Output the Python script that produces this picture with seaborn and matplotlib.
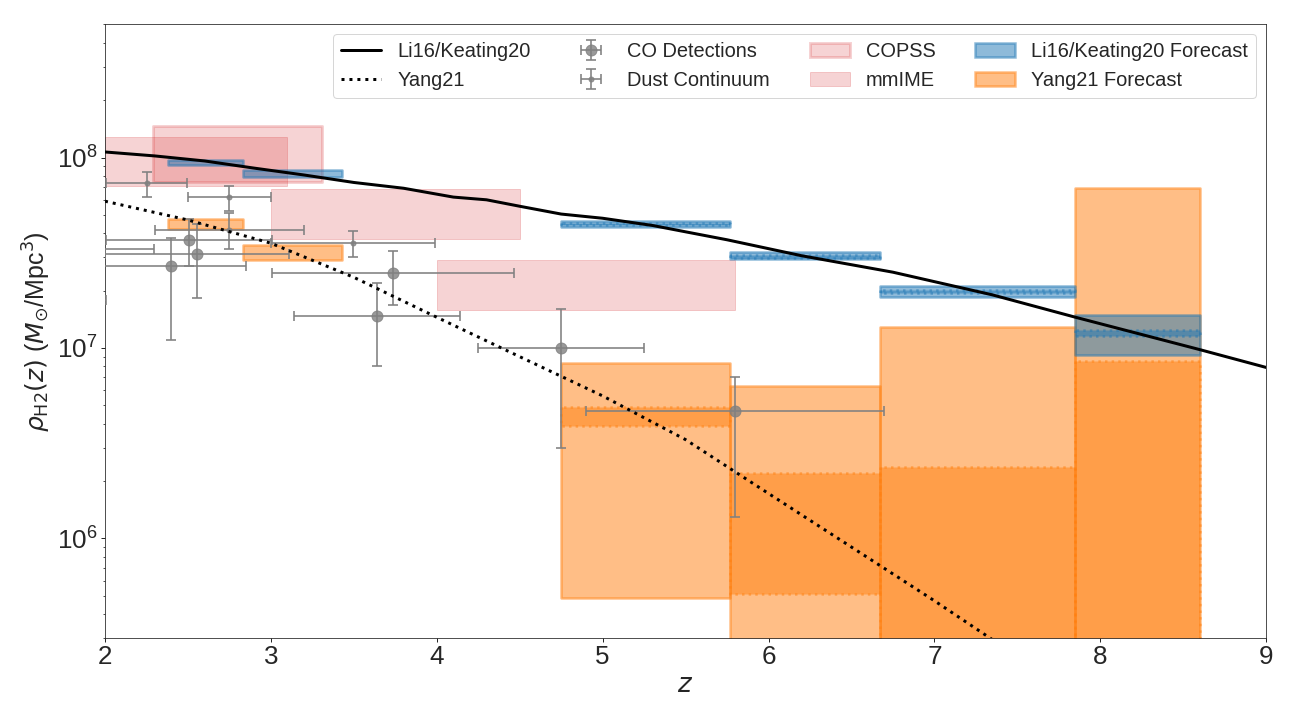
import numpy as np
import pandas as pd
import matplotlib
matplotlib.use("Agg")
import matplotlib.pyplot as plt
import seaborn as sns

# ---------------- data ----------------
# Li16/Keating20 model curve
li_z = [2.0, 2.3, 2.6, 2.9, 3.2, 3.5, 3.8, 4.1, 4.3, 4.5, 4.75, 5.0, 5.3, 5.75, 6.2, 6.75, 7.35, 7.85, 8.6, 9.0]
li_rho = [1.07e8, 1.02e8, 9.6e7, 8.8e7, 8.1e7, 7.4e7, 6.9e7, 6.2e7, 6.0e7, 5.55e7, 5.05e7, 4.8e7,
          4.4e7, 3.7e7, 3.05e7, 2.5e7, 1.9e7, 1.45e7, 9.8e6, 7.9e6]

# Yang21 model curve
yang_z = [2.0, 2.5, 3.0, 3.5, 4.0, 4.5, 5.0, 5.5, 6.0, 6.5, 7.0, 7.5]
yang_rho = [5.9e7, 4.7e7, 3.55e7, 2.35e7, 1.45e7, 9.0e6, 5.6e6, 3.3e6, 1.72e6, 9.0e5, 4.7e5, 2.4e5]

# CO detections
co_z = [2.508, 2.555, 2.398, 3.738, 3.64, 4.749, 5.798, 1.85, 1.595]
co_zerr = [0.5, 0.555, 0.452, 0.73, 0.5, 0.5, 0.9, 0.445, 0.41]
co_rho = [3.7e7, 3.12e7, 2.68e7, 2.47e7, 1.48e7, 1.0e7, 4.69e6, 3.29e7, 1.78e7]
co_err_lo = [1.01e7, 1.29e7, 1.58e7, 0.79e7, 0.68e7, 0.7e7, 3.39e6, 1.0e7, 0.6e7]
co_err_hi = [1.05e7, 1.36e7, 1.09e7, 0.78e7, 0.71e7, 0.6e7, 2.39e6, 1.0e7, 0.6e7]

# Dust continuum
dust_z = [2.251, 2.75, 2.75, 3.497]
dust_zerr = [0.245, 0.25, 0.45, 0.495]
dust_rho = [7.33e7, 6.22e7, 4.18e7, 3.57e7]
dust_err_lo = [1.16e7, 1.0e7, 0.88e7, 0.57e7]
dust_err_hi = [1.1e7, 0.91e7, 0.94e7, 0.53e7]

# COPSS constraint
copss_zlo, copss_zhi = [2.29], [3.31]
copss_lo, copss_hi = [7.48e7], [1.46e8]

# mmIME constraints
mmime_zlo = [2.0, 3.0, 4.0]
mmime_zhi = [3.1, 4.5, 5.8]
mmime_lo = [7.08e7, 3.74e7, 1.59e7]
mmime_hi = [1.28e8, 6.82e7, 2.88e7]

# Forecast bins
fc_zlo = [2.38, 2.835, 4.75, 5.77, 6.67, 7.85]
fc_zhi = [2.835, 3.43, 5.77, 6.67, 7.85, 8.60]

li_fc_out_lo = [9.1e7, 7.94e7, 4.32e7, 2.92e7, 1.85e7, 9.2e6]
li_fc_out_hi = [9.67e7, 8.58e7, 4.63e7, 3.18e7, 2.11e7, 1.49e7]
li_fc_in_lo = [np.nan, np.nan, 4.43e7, 2.98e7, 1.94e7, 1.16e7]
li_fc_in_hi = [np.nan, np.nan, 4.52e7, 3.08e7, 2.02e7, 1.24e7]

yang_fc_out_lo = [4.22e7, 2.9e7, 4.87e5, 1e5, 1e5, 1e5]
yang_fc_out_hi = [4.75e7, 3.48e7, 8.38e6, 6.28e6, 1.29e7, 6.9e7]
yang_fc_in_lo = [np.nan, np.nan, 3.88e6, 5.13e5, 1e5, 1e5]
yang_fc_in_hi = [np.nan, np.nan, 4.88e6, 2.2e6, 2.38e6, 8.55e6]

x_ticks = [2, 3, 4, 5, 6, 7, 8, 9]

# ---------------- style ----------------
sns.set_style("ticks")
plt.rcParams['font.family'] = ['Liberation Sans', 'DejaVu Sans']
plt.rcParams['mathtext.fontset'] = 'dejavusans'
plt.rcParams['xtick.direction'] = 'out'
plt.rcParams['ytick.direction'] = 'out'

fig, ax = plt.subplots(figsize=(18, 10), dpi=72)
fig.subplots_adjust(left=0.081, right=0.977, bottom=0.114, top=0.966)
ax.set_yscale('log')

for sp in ax.spines.values():
    sp.set_visible(True)
    sp.set_color('0.15')

# pink constraints
red = 'tab:red'
h_copss = None
for a, b, lo, hi in zip(copss_zlo, copss_zhi, copss_lo, copss_hi):
    h_copss = ax.fill_between([a, b], [lo, lo], [hi, hi], facecolor=red, edgecolor=red,
                              alpha=0.2, lw=3, zorder=1)
h_mmime = None
for a, b, lo, hi in zip(mmime_zlo, mmime_zhi, mmime_lo, mmime_hi):
    h_mmime = ax.fill_between([a, b], [lo, lo], [hi, hi], facecolor=red, edgecolor=red,
                              alpha=0.2, lw=1, zorder=1)

def draw_forecast(zlo, zhi, olo, ohi, ilo, ihi, color, z):
    h = None
    for a, b, lo, hi, l2, h2 in zip(zlo, zhi, olo, ohi, ilo, ihi):
        h = ax.fill_between([a, b], [lo, lo], [hi, hi], facecolor=color, edgecolor=color,
                            alpha=0.5, lw=2.5, zorder=z)
        if np.isfinite(l2):
            ax.fill_between([a, b], [l2, l2], [h2, h2], facecolor=color, edgecolor=color,
                            alpha=0.5, lw=2.5, ls=':', zorder=z)
    return h

h_yang_fc = draw_forecast(fc_zlo, fc_zhi, yang_fc_out_lo, yang_fc_out_hi,
                          yang_fc_in_lo, yang_fc_in_hi, 'tab:orange', 2)
h_li_fc = draw_forecast(fc_zlo, fc_zhi, li_fc_out_lo, li_fc_out_hi,
                        li_fc_in_lo, li_fc_in_hi, 'tab:blue', 3)

# observations
h_co = ax.errorbar(co_z, co_rho, xerr=co_zerr, yerr=[co_err_lo, co_err_hi], fmt='o',
                   color='gray', alpha=0.8, ms=11, capsize=5, elinewidth=2, capthick=2,
                   zorder=4)
h_dust = ax.errorbar(dust_z, dust_rho, xerr=dust_zerr, yerr=[dust_err_lo, dust_err_hi], fmt='o',
                     color='gray', alpha=0.8, ms=5, capsize=5, elinewidth=2, capthick=2,
                     zorder=4)

# model curves
li_df = pd.DataFrame({'z': li_z, 'rho': li_rho})
yang_df = pd.DataFrame({'z': yang_z, 'rho': yang_rho})
sns.lineplot(data=li_df, x='z', y='rho', color='k', lw=3, ax=ax, zorder=5, sort=False)
sns.lineplot(data=yang_df, x='z', y='rho', color='k', lw=3, ls=':', ax=ax, zorder=5, sort=False)
lines = ax.get_lines()
h_li = [l for l in lines if l.get_linestyle() == '-'][-1]
h_yang = [l for l in lines if l.get_linestyle() == ':'][-1]

ax.set_xlim(2, 9)
ax.set_ylim(3e5, 5e8)
ax.set_xticks(x_ticks)
ax.set_xticklabels([str(t) for t in x_ticks])
ax.tick_params(axis='both', which='major', labelsize=26, length=4, width=1)
ax.tick_params(axis='y', which='minor', length=2.5, width=0.8)
ax.xaxis.set_minor_locator(matplotlib.ticker.NullLocator())

ax.set_xlabel(r'$z$', fontsize=26)
ax.set_ylabel(r'$\rho_{\rm H2}(z)$ ($M_{\odot}$/Mpc$^3$)', fontsize=25)

handles = [h_li, h_yang, h_co, h_dust, h_copss, h_mmime, h_li_fc, h_yang_fc]
labels = ['Li16/Keating20', 'Yang21', 'CO Detections', 'Dust Continuum', 'COPSS', 'mmIME',
          'Li16/Keating20 Forecast', 'Yang21 Forecast']
ax.legend(handles, labels, ncol=4, loc='upper right', fontsize=20, frameon=True,
          framealpha=0.8, edgecolor='0.8', fancybox=True, columnspacing=2.0, handlelength=2.0)

fig.savefig('out.png', dpi=72)
